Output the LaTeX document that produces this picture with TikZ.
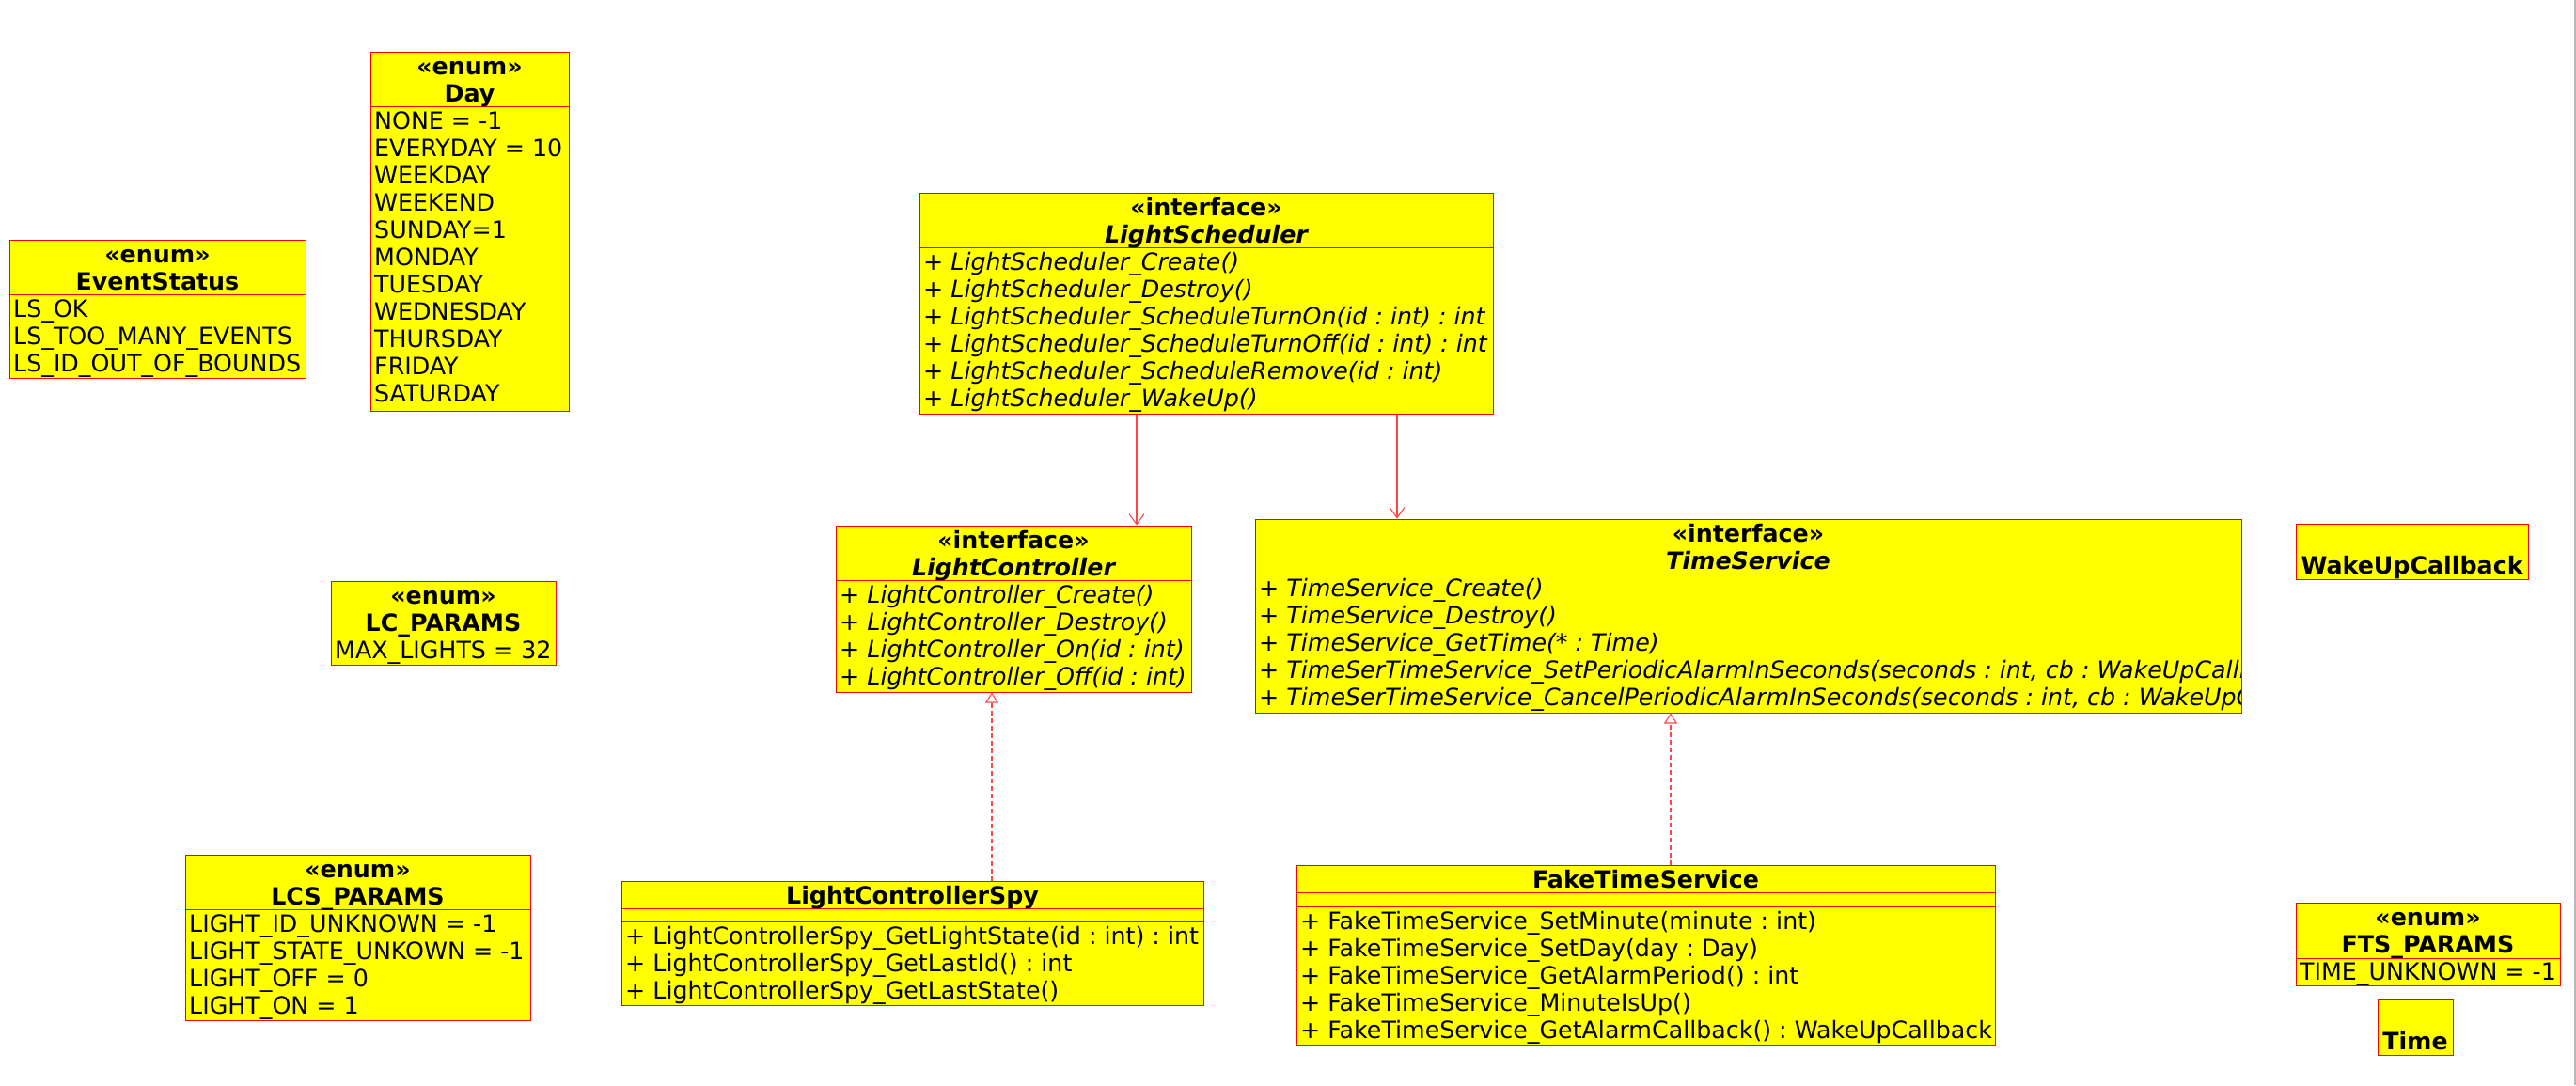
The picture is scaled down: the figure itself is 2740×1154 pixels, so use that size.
\documentclass[tikz,border=0pt]{standalone}
\usepackage{fontspec}
\setmainfont{DejaVu Sans}
\usetikzlibrary{fit,arrows.meta}
\definecolor{ufill}{RGB}{255,255,0}
\definecolor{uline}{RGB}{255,0,0}
\definecolor{uconn}{RGB}{255,70,70}
\newcommand{\bodyfont}{\frenchspacing\fontsize{25.3pt}{29pt}\selectfont}
\tikzset{
  box/.style={draw=uline, fill=ufill, line width=1pt, inner sep=0pt},
  sep/.style={draw=uline, line width=1pt},
  txt/.style={inner sep=0pt, anchor=base west, font=\bodyfont},
  itxt/.style={inner sep=0pt, anchor=base west, font=\bodyfont\itshape},
  hd/.style={inner sep=0pt, anchor=base, font=\bodyfont\bfseries},
  ihd/.style={inner sep=0pt, anchor=base, font=\bodyfont\bfseries\itshape},
  assoc/.style={draw=uconn, line width=1.1pt, -{Straight Barb[length=11pt,width=16pt,line width=1.1pt]}},
  realize/.style={draw=uconn, line width=1.1pt, dash pattern=on 5pt off 3pt, -{Triangle[open,length=11pt,width=14pt,line width=1.1pt]}}
}
\begin{document}
\begin{tikzpicture}[x=1pt,y=-1pt]
\useasboundingbox (0,0) rectangle (2740,1154);
\fill[white] (0,0) rectangle (2740,1154);

% ---------- EventStatus
\node[box, fit={(10,255)(325,402)}] (es) {};
\draw[sep] (es.west |- 0,313) -- (es.east |- 0,313);
\node[hd] (esS) at (167.5,279) {«enum»};
\node[hd] (esN) at (167.5,308) {EventStatus};
\foreach \t [count=\i] in {LS\_OK, LS\_TOO\_MANY\_EVENTS, LS\_ID\_OUT\_OF\_BOUNDS}
  \node[txt] (es-\i) at (14,308.5+29*\i) {\t};

% ---------- Day
\node[box, fit={(394,55)(605,437)}] (day) {};
\draw[sep] (day.west |- 0,113) -- (day.east |- 0,113);
\node[hd] (dayS) at (499.5,79) {«enum»};
\node[hd] (dayN) at (499.5,108) {Day};
\foreach \t [count=\i] in {NONE = -1, EVERYDAY = 10, WEEKDAY, WEEKEND, SUNDAY=1, MONDAY, TUESDAY, WEDNESDAY, THURSDAY, FRIDAY, SATURDAY}
  \node[txt] (day-\i) at (398,108.5+29*\i) {\t};

% ---------- LightScheduler
\node[box, fit={(978,205)(1588,440)}] (ls) {};
\draw[sep] (ls.west |- 0,263) -- (ls.east |- 0,263);
\node[hd] (lsS) at (1283,229) {«interface»};
\node[ihd] (lsN) at (1283,258) {LightScheduler};
\foreach \t [count=\i] in {+ LightScheduler\_Create(), + LightScheduler\_Destroy(), + LightScheduler\_ScheduleTurnOn(id : int) : int, + LightScheduler\_ScheduleTurnOff(id : int) : int, + LightScheduler\_ScheduleRemove(id : int), + LightScheduler\_WakeUp()}
  \node[itxt] (ls-\i) at (982,258.5+29*\i) {\t};

% ---------- LightController
\node[box, fit={(889,559)(1267,736)}] (lc) {};
\draw[sep] (lc.west |- 0,617) -- (lc.east |- 0,617);
\node[hd] (lcS) at (1078,583) {«interface»};
\node[ihd] (lcN) at (1078,612) {LightController};
\foreach \t [count=\i] in {+ LightController\_Create(), + LightController\_Destroy(), + LightController\_On(id : int), + LightController\_Off(id : int)}
  \node[itxt] (lc-\i) at (893,612.5+29*\i) {\t};

% ---------- TimeService
\node[box, fit={(1335,552)(2384,758)}] (ts) {};
\draw[sep] (ts.west |- 0,610) -- (ts.east |- 0,610);
\node[hd] (tsS) at (1859.5,576) {«interface»};
\node[ihd] (tsN) at (1859.5,605) {TimeService};
\begin{scope}
\clip (1335,610) rectangle (2383,758);
\foreach \t [count=\i] in {+ TimeService\_Create(), + TimeService\_Destroy(), + TimeService\_GetTime(* : Time), {+ TimeSerTimeService\_SetPeriodicAlarmInSeconds(seconds : int, cb : WakeUpCallback)}, {+ TimeSerTimeService\_CancelPeriodicAlarmInSeconds(seconds : int, cb : WakeUpCallback)}}
  \node[itxt] (ts-\i) at (1339,605.5+29*\i) {\t};
\end{scope}
\draw[uline, line width=1pt] (ts.north east) -- (ts.south east);

% ---------- WakeUpCallback
\node[box, fit={(2442,557)(2689,616)}] (wuc) {};
\node[hd] (wucN) at (2565.5,610) {WakeUpCallback};

% ---------- LC_PARAMS
\node[box, fit={(352,618)(591,707)}] (lcp) {};
\draw[sep] (lcp.west |- 0,677) -- (lcp.east |- 0,677);
\node[hd] (lcpS) at (471.5,642) {«enum»};
\node[hd] (lcpN) at (471.5,671) {LC\_PARAMS};
\node[txt] (lcp-1) at (356,700.5) {MAX\_LIGHTS = 32};

% ---------- LCS_PARAMS
\node[box, fit={(197,909)(564,1085)}] (lcsp) {};
\draw[sep] (lcsp.west |- 0,967) -- (lcsp.east |- 0,967);
\node[hd] (lcspS) at (380.5,933) {«enum»};
\node[hd] (lcspN) at (380.5,962) {LCS\_PARAMS};
\foreach \t [count=\i] in {LIGHT\_ID\_UNKNOWN = -1, LIGHT\_STATE\_UNKOWN = -1, LIGHT\_OFF = 0, LIGHT\_ON = 1}
  \node[txt] (lcsp-\i) at (201,962.5+29*\i) {\t};

% ---------- LightControllerSpy
\node[box, fit={(661,937)(1280,1069)}] (lcs) {};
\draw[sep] (lcs.west |- 0,966) -- (lcs.east |- 0,966);
\draw[sep] (lcs.west |- 0,980) -- (lcs.east |- 0,980);
\node[hd] (lcsN) at (970.5,961) {LightControllerSpy};
\foreach \t [count=\i] in {+ LightControllerSpy\_GetLightState(id : int) : int, + LightControllerSpy\_GetLastId() : int, + LightControllerSpy\_GetLastState()}
  \node[txt] (lcs-\i) at (665,975.5+29*\i) {\t};

% ---------- FakeTimeService
\node[box, fit={(1379,920)(2122,1111)}] (fts) {};
\draw[sep] (fts.west |- 0,949) -- (fts.east |- 0,949);
\draw[sep] (fts.west |- 0,964) -- (fts.east |- 0,964);
\node[hd] (ftsN) at (1750.5,944) {FakeTimeService};
\foreach \t [count=\i] in {+ FakeTimeService\_SetMinute(minute : int), + FakeTimeService\_SetDay(day : Day), + FakeTimeService\_GetAlarmPeriod() : int, + FakeTimeService\_MinuteIsUp(), + FakeTimeService\_GetAlarmCallback() : WakeUpCallback}
  \node[txt] (fts-\i) at (1383,959.5+29*\i) {\t};

% ---------- FTS_PARAMS
\node[box, fit={(2442,960)(2723,1048)}] (ftsp) {};
\draw[sep] (ftsp.west |- 0,1019) -- (ftsp.east |- 0,1019);
\node[hd] (ftspS) at (2582.5,984) {«enum»};
\node[hd] (ftspN) at (2582.5,1013) {FTS\_PARAMS};
\node[txt] (ftsp-1) at (2446,1042.5) {TIME\_UNKNOWN = -1};

% ---------- Time
\node[box, fit={(2529,1063)(2609,1122)}] (time) {};
\node[hd] (timeN) at (2569,1116) {Time};

% ---------- connectors
\draw[assoc] (ls.south -| 1209,0) -- (lc.north -| 1209,0);
\draw[assoc] (ls.south -| 1486,0) -- (ts.north -| 1486,0);
\draw[realize] (lcs.north -| 1055,0) -- (lc.south -| 1055,0);
\draw[realize] (fts.north -| 1777,0) -- (ts.south -| 1777,0);

% page edge
\draw[gray!55, line width=2pt] (2739,0) -- (2739,1154);
\end{tikzpicture}
\end{document}
